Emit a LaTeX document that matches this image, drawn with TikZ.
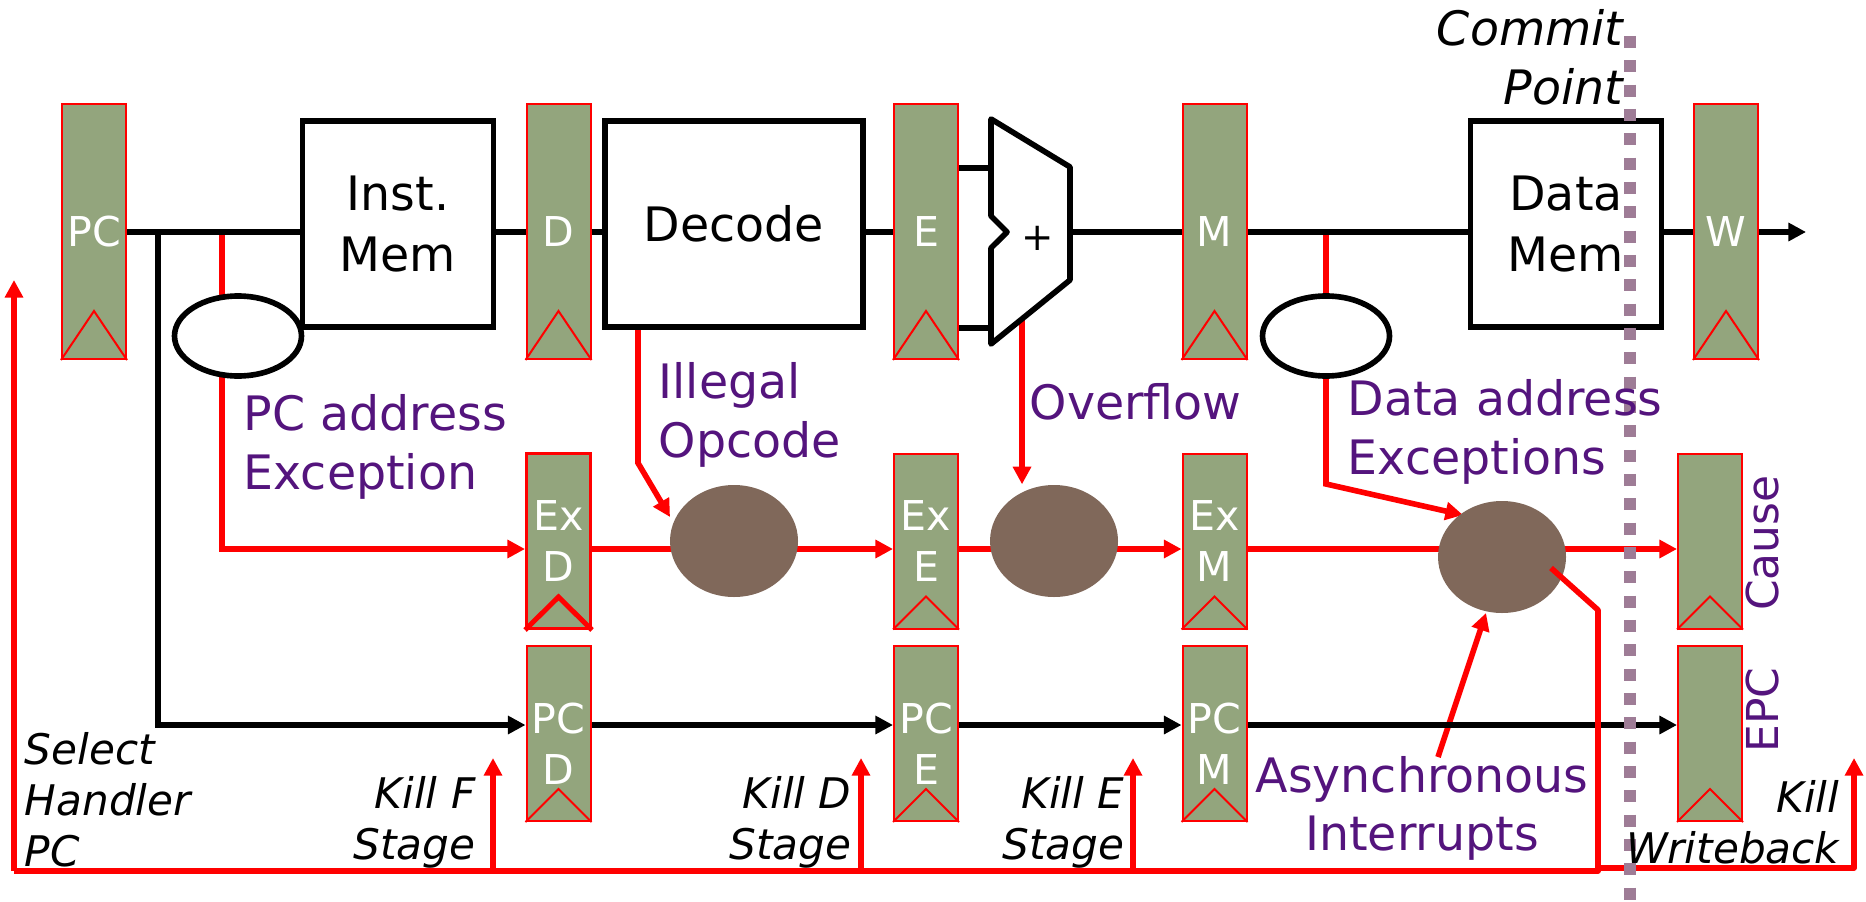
\documentclass[tikz,border=0pt]{standalone}
\usepackage{fontspec}
\setmainfont{DejaVu Sans}
\usepackage{xcolor}
\usetikzlibrary{arrows.meta,positioning,shapes,calc,backgrounds}
\definecolor{reggreen}{HTML}{93A57D}
\definecolor{wirered}{HTML}{FF0000}
\definecolor{faultbrown}{HTML}{80685A}
\definecolor{notepurple}{HTML}{54147D}
\definecolor{commitgray}{HTML}{9E7C96}
\tikzset{
  reg/.style={draw=wirered,fill=reggreen,line width=0.57pt,inner sep=0pt,
              minimum width=0.64cm,align=center,text=white,
              font=\fontsize{11.7}{14.5}\selectfont},
  toprow/.style={reg,minimum height=2.55cm},
  lowrow/.style={reg,minimum height=1.75cm},
  unit/.style={draw=black,fill=white,line width=1.6pt,inner sep=0pt,
               minimum width=1.91cm,minimum height=2.06cm,align=center,
               font=\fontsize{13.5}{17.2}\selectfont},
  check/.style={ellipse,draw=black,fill=white,line width=1.6pt,inner sep=0pt,
                minimum width=1.27cm,minimum height=0.80cm},
  fault/.style={ellipse,fill=faultbrown,inner sep=0pt,
                minimum width=1.28cm,minimum height=1.12cm},
  note/.style={text=notepurple,inner sep=0pt,align=left,
               font=\fontsize{13.5}{16.6}\selectfont},
  sidenote/.style={note,rotate=90,font=\fontsize{12.5}{15}\selectfont},
  kill/.style={text=black,inner sep=0pt,align=right,
               font=\fontsize{12}{14.5}\selectfont\itshape},
  blackwire/.style={draw=black,line width=1.6pt},
  redwire/.style={draw=wirered,line width=1.6pt},
  blackarr/.style={blackwire,-{Triangle[length=5pt,width=5pt]}},
  redarr/.style={redwire,-{Triangle[length=5pt,width=5pt]}}
}
\begin{document}
\begin{tikzpicture}[x=1cm,y=1cm]
    \useasboundingbox (0,0) rectangle (18.66,-9.01);
    \node[toprow] (pc) at (0.94,-2.315) {PC};
    \node[toprow] (d) at (5.585,-2.315) {D};
    \node[toprow] (e) at (9.26,-2.315) {E};
    \node[toprow] (m) at (12.145,-2.315) {M};
    \node[toprow] (w) at (17.26,-2.315) {W};

    \node[lowrow,line width=0.85pt] (exd) at (5.585,-5.41) {Ex\\D};
    \node[lowrow] (exe) at (9.26,-5.41) {Ex\\E};
    \node[lowrow] (exm) at (12.145,-5.41) {Ex\\M};
    \node[lowrow] (cause) at (17.10,-5.41) {};

    \node[lowrow] (pcd) at (5.585,-7.335) {\\PC\\D};
    \node[lowrow] (pce) at (9.26,-7.335) {\\PC\\E};
    \node[lowrow] (pcm) at (12.145,-7.335) {\\PC\\M};
    \node[lowrow] (epc) at (17.10,-7.335) {};

    \foreach \r in {pc,d,e,m,w}
      \draw[wirered,line width=0.57pt] (\r.south west) -- ($(\r.south)+(0,0.49)$) -- (\r.south east);
    \foreach \r in {exe,exm,cause,pcd,pce,pcm,epc}
      \draw[wirered,line width=0.57pt] (\r.south west) -- ($(\r.south)+(0,0.33)$) -- (\r.south east);
    \draw[wirered,line width=1.42pt] (exd.south west) -- ($(exd.south)+(0,0.33)$) -- (exd.south east);

    \node[unit] (imem) at (3.98,-2.24) {Inst.\\Mem};
    \node[unit,minimum width=2.58cm] (decode) at (7.34,-2.24) {Decode};
    \node[unit] (dmem) at (15.66,-2.24) {Data\\Mem};

    \draw[blackwire,fill=white,line join=round] (9.91,-1.19) -- (10.70,-1.67) -- (10.70,-2.80)
      -- (9.91,-3.44) -- (9.91,-2.48) -- (10.07,-2.32) -- (9.91,-2.16) -- cycle;
    \node[inner sep=0pt,font=\fontsize{11}{13}\selectfont] (plus) at (10.38,-2.38) {+};
    \coordinate (addin1) at (9.91,-1.68);
    \coordinate (addin2) at (9.91,-3.28);
    \coordinate (addout) at (10.70,-2.32);
    \coordinate (addov) at (10.22,-3.18);

    \node[check] (pcchk) at (2.38,-3.36) {};
    \node[check] (datachk) at (13.26,-3.36) {};
    \node[fault] (faultd) at (7.34,-5.41) {};
    \node[fault] (faulte) at (10.54,-5.41) {};
    \node[fault] (faultm) at (15.02,-5.57) {};

    \coordinate (jumptap) at (1.58,-2.32);
    \coordinate (pctap) at (2.22,-2.32);
    \coordinate (datatap) at (13.26,-2.32);
    \coordinate (redrow) at (0,-5.49);
    \coordinate (blackrow) at (0,-7.25);
    \coordinate (busw) at (0.14,-8.71);
    \coordinate (buse) at (15.98,-8.71);
    \coordinate (busturn) at (15.98,-6.10);
    \coordinate (buswb) at (15.98,-8.68);
    \coordinate (selecttip) at (0.14,-2.80);
    \coordinate (killf) at (4.93,-7.58);
    \coordinate (killd) at (8.61,-7.58);
    \coordinate (kille) at (11.33,-7.58);
    \coordinate (killw) at (18.54,-7.58);
    \coordinate (wend) at (18.06,-2.32);
    \coordinate (opbend) at (6.38,-4.63);
    \coordinate (databend) at (13.26,-4.84);
    \coordinate (irqstart) at (14.38,-7.57);

    \begin{pgfonlayer}{background}
      \draw[redarr] (pctap) |- (exd.west |- redrow);
      \draw[redarr] (datatap) -- (databend) -- (14.63,-5.15);
      \draw[redarr] (decode.south west -| opbend) -- (opbend) -- (6.70,-5.17);
      \draw[redarr] (addov) -- (addov |- faulte.north);
      \draw[redwire] (exd.east |- redrow) -- (faultd.center |- redrow);
      \draw[redarr] (faultd.center |- redrow) -- (exe.west |- redrow);
      \draw[redwire] (exe.east |- redrow) -- (faulte.center |- redrow);
      \draw[redarr] (faulte.center |- redrow) -- (exm.west |- redrow);
      \draw[redwire] (exm.east |- redrow) -- (faultm.center |- redrow);
      \draw[redarr] (faultm.center |- redrow) -- (cause.west |- redrow);
      \draw[redarr] (irqstart) -- (14.86,-6.13);
      \draw[redarr] (busw) -- (selecttip);
      \draw[redwire,line join=round] (busw) -- (buse) -- (busturn);
      \draw[redarr,line join=round] (buswb) -| (killw);
      \draw[redarr] (killf |- busw) -- (killf);
      \draw[redarr] (killd |- busw) -- (killd);
      \draw[redarr] (kille |- busw) -- (kille);

      \draw[blackwire] (pc.east |- pctap) -- (pctap -| imem.west);
      \draw[blackarr] (jumptap) |- (pcd.west |- blackrow);
      \draw[blackwire] (imem.east |- pctap) -- (pctap -| d.west);
      \draw[blackwire] (d.east |- pctap) -- (pctap -| decode.west);
      \draw[blackwire] (decode.east |- pctap) -- (pctap -| e.west);
      \draw[blackwire] (e.east |- addin1) -- (addin1);
      \draw[blackwire] (e.east |- addin2) -- (addin2);
      \draw[blackwire] (addout) -- (addout -| m.west);
      \draw[blackwire] (m.east |- addout) -- (addout -| dmem.west);
      \draw[blackwire] (dmem.east |- addout) -- (addout -| w.west);
      \draw[blackarr] (w.east |- addout) -- (wend);
      \draw[blackarr] (pcd.east |- blackrow) -- (pce.west |- blackrow);
      \draw[blackarr] (pce.east |- blackrow) -- (pcm.west |- blackrow);
      \draw[blackarr] (pcm.east |- blackrow) -- (epc.west |- blackrow);
    \end{pgfonlayer}

    \draw[redwire,line join=round] (buse) -- (busturn) -- (15.51,-5.68);

    \coordinate (committop) at (16.30,-0.36);
    \coordinate (commitend) at (16.30,-9.01);
    \draw[commitgray,line width=0.12cm,dash pattern=on 0.12cm off 0.1233cm] (committop) -- (commitend);

    \node[note,anchor=west] (pcnote) at (2.43,-4.47) {PC address\\Exception};
    \node[note,anchor=west] (opnote) at (6.58,-4.15) {Illegal\\Opcode};
    \node[note,anchor=west] (ovnote) at (10.29,-4.02) {Overflow};
    \node[note,anchor=west] (datanote) at (13.47,-4.32) {Data address\\Exceptions};
    \node[note,align=center] (irqnote) at (14.22,-8.085) {Asynchronous\\Interrupts};
    \node[sidenote] (causenote) at (17.62,-5.43) {Cause};
    \node[sidenote] (epcnote) at (17.62,-7.10) {EPC};

    \node[kill,align=left,anchor=west] (selectnote) at (0.24,-8.00) {Select\\Handler\\PC};
    \node[kill,anchor=east] (killfnote) at (4.76,-8.22) {Kill F\\Stage};
    \node[kill,anchor=east] (killdnote) at (8.52,-8.22) {Kill D\\Stage};
    \node[kill,anchor=east] (killenote) at (11.25,-8.22) {Kill E\\Stage};
    \node[kill,anchor=east] (killwnote) at (18.40,-8.22) {Kill\\Writeback};
    \node[kill,anchor=east,font=\fontsize{13.5}{16.7}\selectfont\itshape] (commitnote) at (16.24,-0.575) {Commit\\Point};
\end{tikzpicture}
\end{document}
